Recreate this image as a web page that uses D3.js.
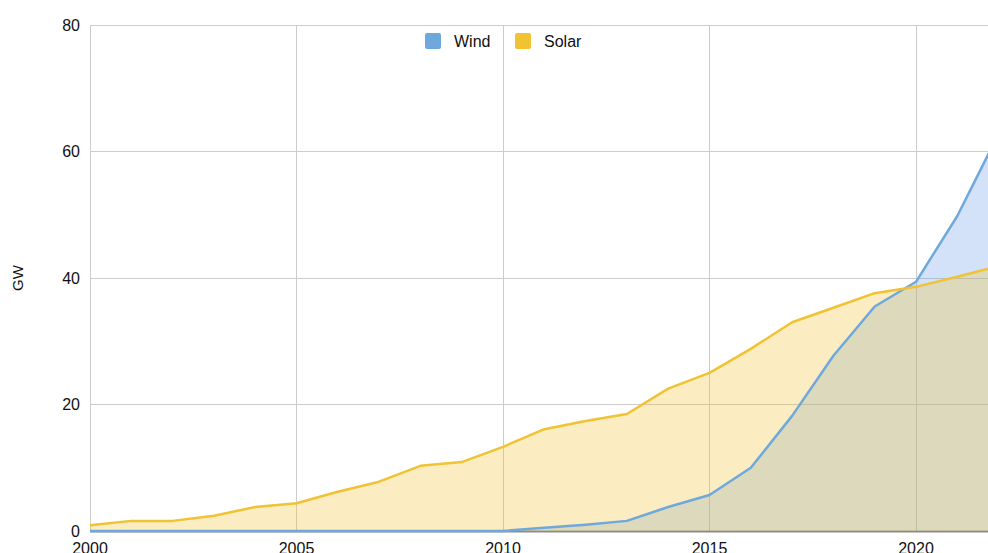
<!DOCTYPE html>
<html>
<head>
<meta charset="utf-8">
<script src="https://cdn.jsdelivr.net/npm/d3@7"></script>
<style>
  html, body { margin: 0; padding: 0; background: #fff; overflow: hidden; }
  svg { display: block; font-family: "Liberation Sans", Arial, sans-serif; }
</style>
</head>
<body>
<svg id="chart" width="988" height="553"></svg>
<script>
const years = [2000,2001,2002,2003,2004,2005,2006,2007,2008,2009,2010,2011,2012,2013,2014,2015,2016,2017,2018,2019,2020,2021,2022];
const wind  = [0,0,0,0,0,0,0,0,0,0,0,0.5,1.0,1.6,3.8,5.7,10.0,18.2,27.7,35.5,39.4,49.8,62.8];
const solar = [0.9,1.6,1.6,2.4,3.8,4.4,6.2,7.8,10.3,10.9,13.3,16.1,17.4,18.5,22.5,25.0,28.8,33.0,35.3,37.6,38.6,40.2,41.9];
const yTicks = [0,20,40,60,80];
const xTicks = [2000,2005,2010,2015,2020];
const seriesNames = ["Wind","Solar"];
const seriesColors = ["#6fa8dc","#f1c232"];

const svg = d3.select("#chart");
const x = d3.scaleLinear().domain([2000, 2020]).range([90, 916]);
const y = d3.scaleLinear().domain([0, 80]).range([531, 25]);
const right = 1100;

// gridlines
svg.append("g").selectAll("line").data(yTicks).join("line")
  .attr("x1", 90).attr("x2", right)
  .attr("y1", d => y(d)).attr("y2", d => y(d))
  .attr("stroke", "#cccccc").attr("stroke-width", 1)
  .attr("shape-rendering", "crispEdges");
svg.append("g").selectAll("line").data(xTicks).join("line")
  .attr("x1", d => x(d)).attr("x2", d => x(d))
  .attr("y1", y(80)).attr("y2", y(0))
  .attr("stroke", "#cccccc").attr("stroke-width", 1)
  .attr("shape-rendering", "crispEdges");

// baseline
svg.append("line")
  .attr("x1", 90).attr("x2", right)
  .attr("y1", y(0) + 0.5).attr("y2", y(0) + 0.5)
  .attr("stroke", "#8c8c8c").attr("stroke-width", 2);

const windData = years.map((yr, i) => ({yr, v: wind[i]}));
const solarData = years.map((yr, i) => ({yr, v: solar[i]}));

const area = d3.area().x(d => x(d.yr)).y0(y(0)).y1(d => y(d.v));
const line = d3.line().x(d => x(d.yr)).y(d => y(d.v));

svg.append("path").datum(windData).attr("d", area)
  .attr("fill", "#6d9eeb").attr("fill-opacity", 0.3);
svg.append("path").datum(solarData).attr("d", area)
  .attr("fill", seriesColors[1]).attr("fill-opacity", 0.3);

svg.append("path").datum(windData).attr("d", line)
  .attr("fill", "none").attr("stroke", seriesColors[0]).attr("stroke-width", 2.5)
  .attr("stroke-linejoin", "round");
svg.append("path").datum(solarData).attr("d", line)
  .attr("fill", "none").attr("stroke", seriesColors[1]).attr("stroke-width", 2.5)
  .attr("stroke-linejoin", "round");

// y tick labels
svg.append("g").selectAll("text").data(yTicks).join("text")
  .attr("x", 80).attr("y", d => y(d)).attr("dy", "0.36em")
  .attr("text-anchor", "end").attr("font-size", 16).attr("fill", "#111")
  .text(d => d);

// x tick labels
svg.append("g").selectAll("text").data(xTicks).join("text")
  .attr("x", d => x(d)).attr("y", 554)
  .attr("text-anchor", "middle").attr("font-size", 16).attr("fill", "#111")
  .text(d => d);

// y axis title
svg.append("text")
  .attr("transform", `translate(23, ${(y(0)+y(80))/2}) rotate(-90)`)
  .attr("text-anchor", "middle").attr("font-size", 15).attr("fill", "#111")
  .text("GW");

// legend
const legend = svg.append("g");
const legendX = [425, 515];
seriesNames.forEach((name, i) => {
  legend.append("rect")
    .attr("x", legendX[i]).attr("y", 33).attr("width", 16).attr("height", 16)
    .attr("rx", 2).attr("fill", seriesColors[i]);
  legend.append("text")
    .attr("x", legendX[i] + 29).attr("y", 41).attr("dy", "0.36em")
    .attr("font-size", 16).attr("fill", "#111").text(name);
});
</script>
</body>
</html>
